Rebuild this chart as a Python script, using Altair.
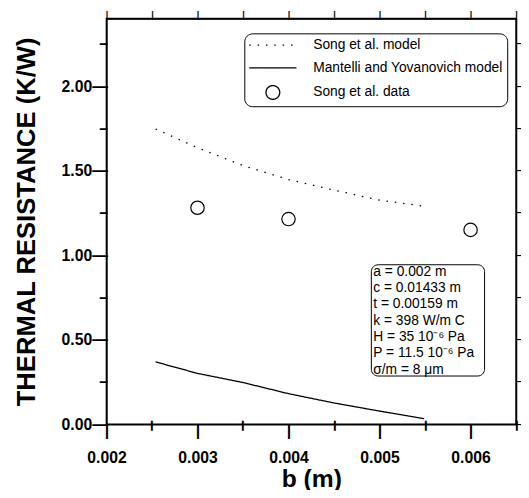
import math
import altair as alt
import pandas as pd

# ---- data ----
series_names = ["Song et al. model", "Mantelli and Yovanovich model", "Song et al. data"]

song_model_b = [0.00254, 0.0030, 0.0035, 0.0040, 0.0045, 0.0050, 0.00549]
song_model_r = [1.747, 1.636, 1.530, 1.448, 1.385, 1.326, 1.290]

my_model_b = [0.00254, 0.0030, 0.0035, 0.0040, 0.0045, 0.0050, 0.00549]
my_model_r = [0.369, 0.301, 0.247, 0.181, 0.126, 0.078, 0.033]

data_b = [0.003, 0.004, 0.006]
data_r = [1.281, 1.214, 1.150]

x_tick_values = [0.002, 0.0025, 0.003, 0.0035, 0.004, 0.0045, 0.005, 0.0055, 0.006, 0.0065]
y_tick_values = [0.0, 0.25, 0.5, 0.75, 1.0, 1.25, 1.5, 1.75, 2.0, 2.25]

note_lines = [
    "a = 0.002 m",
    "c = 0.01433 m",
    "t = 0.00159 m",
    "k = 398 W/m  C",
    "H = 35 10\u207b\u2076 Pa",
    "P = 11.5 10\u207b\u2076 Pa",
    "\u03c3/m = 8 \u03bcm",
]

df_lines = pd.DataFrame({
    "b": song_model_b + my_model_b,
    "r": song_model_r + my_model_r,
    "series": [series_names[0]] * len(song_model_b) + [series_names[1]] * len(my_model_b),
})
df_points = pd.DataFrame({"b": data_b, "r": data_r, "series": [series_names[2]] * len(data_b)})

W, H = 416, 412
FONT = "Liberation Sans"
xscale = alt.Scale(domain=[0.002, 0.0065], nice=False, zero=False)
yscale = alt.Scale(domain=[0, 2.4], nice=False, zero=False)

X_MAJOR = "(abs(datum.value*1000 - round(datum.value*1000)) < 1e-6 && datum.value < 0.0062)"
Y_MAJOR = "(abs(datum.value*2 - round(datum.value*2)) < 1e-6)"

# tick marks are drawn as glyphs inside the axis labels
bottom_axis = alt.Axis(
    values=x_tick_values, title="b (m)", orient="bottom",
    labelExpr=f"{X_MAJOR} ? ['|', format(datum.value, '.3f')] : ['\u2575']",
    labelOverlap=False, labelFlush=False, labelBound=False,
    tickSize=0, ticks=False, labelPadding=-2, labelBaseline="top", labelLineHeight=28,
    titleFontSize=25, titleY=68, titleBaseline="bottom",
)
left_axis = alt.Axis(
    values=y_tick_values, title="THERMAL RESISTANCE (K/W)", orient="left",
    labelExpr=f"{Y_MAJOR} ? format(datum.value, '.2f') + '\u2014' : '\u2013'",
    labelOverlap=False, labelFlush=False, labelBound=False,
    tickSize=0, ticks=False, labelPadding=-1,
    titlePadding=22, titleFontSize=26,
)
top_axis = alt.Axis(
    values=x_tick_values, title=None, orient="top",
    labelExpr="'|'",
    labelOverlap=False, labelFlush=False, labelBound=False,
    tickSize=0, ticks=False, labelPadding=-1, labelBaseline="bottom",
    labelFontSize=9,
)
right_axis = alt.Axis(
    values=y_tick_values, title=None, orient="right",
    labelExpr="'\u2013'",
    labelOverlap=False, labelFlush=False, labelBound=False,
    tickSize=0, ticks=False, labelPadding=-1, labelFontSize=11,
)

# legend symbols (symbol size 196 -> 7 px per unit): a 48 px line and a 14 px circle
SYM_SIZE = 196
line_path = "M-1,0L5.857,0"
cx = 17.0 / 7.0
circle_path = "M" + "L".join(
    f"{cx + math.cos(2*math.pi*i/36):.4f},{math.sin(2*math.pi*i/36):.4f}" for i in range(36)
) + "Z"

legend_kw = dict(
    title=None, orient="none", legendX=140, legendY=15,
    strokeColor="black", cornerRadius=8, padding=4, fillColor="white",
    symbolSize=SYM_SIZE, symbolStrokeWidth=1.3, symbolStrokeColor="black",
    labelFont=FONT, labelFontSize=14, labelColor="black", labelOffset=50,
    labelLimit=400, rowPadding=8,
)

lines = alt.Chart(df_lines).mark_line(color="black", strokeWidth=1.3).encode(
    x=alt.X("b:Q", scale=xscale, axis=bottom_axis),
    y=alt.Y("r:Q", scale=yscale, axis=left_axis),
    strokeDash=alt.StrokeDash(
        "series:N",
        scale=alt.Scale(domain=series_names, range=[[1.5, 7], [1, 0], [1, 0]]),
        legend=alt.Legend(**legend_kw),
    ),
)

points = alt.Chart(df_points).mark_point(
    filled=False, color="black", size=185, strokeWidth=1.2, opacity=1, shape="circle"
).encode(
    x=alt.X("b:Q", scale=xscale, axis=top_axis),
    y=alt.Y("r:Q", scale=yscale, axis=right_axis),
)

legend_layer = alt.Chart(df_points).transform_filter("false").mark_point(
    filled=False, color="black", strokeWidth=1.2, opacity=1
).encode(
    x=alt.X("b:Q", scale=xscale, axis=None),
    y=alt.Y("r:Q", scale=yscale, axis=None),
    shape=alt.Shape(
        "series:N",
        scale=alt.Scale(domain=series_names, range=[line_path, line_path, circle_path]),
        legend=alt.Legend(**legend_kw),
    ),
)

one = pd.DataFrame({"k": [0]})
note_box = alt.Chart(one).mark_rect(
    fill="white", stroke="black", strokeWidth=1, cornerRadius=7
).encode(
    x=alt.value(269), x2=alt.value(384), y=alt.value(250), y2=alt.value(363)
)
note_text = alt.Chart(one).mark_text(
    align="left", baseline="top", font=FONT, fontSize=14, lineHeight=16.6, color="black"
).encode(
    x=alt.value(271), y=alt.value(250), text=alt.value(note_lines)
)

chart = alt.layer(lines, points, legend_layer, note_box, note_text).resolve_axis(
    x="independent", y="independent"
).properties(
    width=W, height=H,
    autosize=alt.AutoSizeParams(type="none"),
    padding={"left": 100, "top": 7, "right": 5, "bottom": 63},
    background="white",
).configure_axis(
    labelFont=FONT, labelFontSize=16, labelFontWeight="bold", labelColor="black",
    titleFont=FONT, titleFontWeight="bold", titleColor="black",
    domainColor="black", domainWidth=1.4,
    grid=False,
).configure_view(stroke="black", strokeWidth=1.6)

chart.save("out.html", embed_options={"renderer": "svg", "actions": False})
